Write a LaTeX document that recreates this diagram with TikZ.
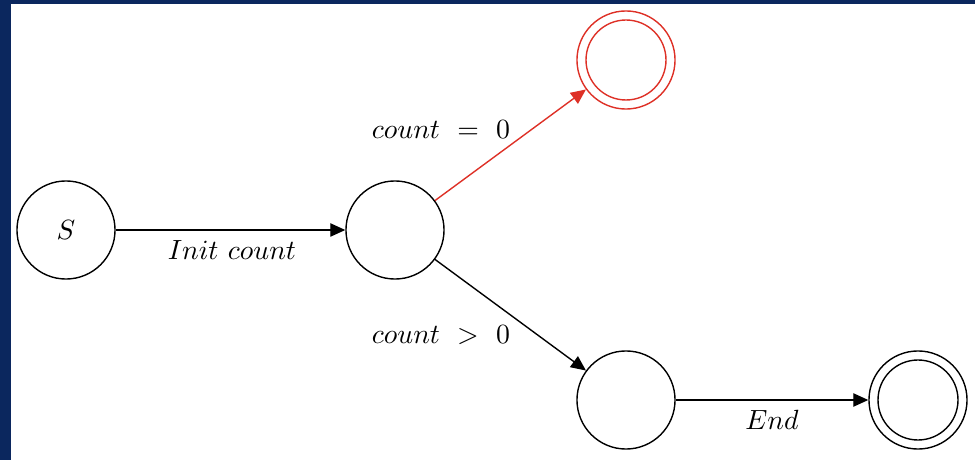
\documentclass[tikz,border=0pt]{standalone}
\usetikzlibrary{arrows.meta}
\definecolor{navy}{RGB}{11,39,94}
\definecolor{accred}{RGB}{222,48,38}
\begin{document}
\begin{tikzpicture}[x=0.36pt,y=-0.36pt,
  state/.style={circle,draw,line width=0.5pt,minimum size=35.3pt,inner sep=0pt,font=\fontsize{10.3}{12.5}\selectfont},
  conn/.style={line width=0.5pt,-{Triangle[length=5.4pt,width=4.8pt]}},
  lbl/.style={inner sep=0pt,font=\fontsize{10.3}{12.5}\selectfont}]
\useasboundingbox (0,0) rectangle (975,460);
\fill[navy] (0,0) rectangle (975,460);
\fill[white] (11,4) rectangle (975,460);
\node[state] (s) at (66,230) {$S$};
\node[state] (m) at (395,230) {};
\node[state,accred] (t) at (626,60) {};
\draw[accred,line width=0.5pt] (t.center) circle[radius=14.4pt];
\node[state] (b) at (626,400) {};
\node[state] (e) at (918,400) {};
\draw[line width=0.5pt] (e.center) circle[radius=14.4pt];
\draw[conn] (s) -- (m);
\draw[conn,accred] (m) -- (t);
\draw[conn] (m) -- (b);
\draw[conn] (b) -- (e);
\node[lbl] (l1) at (232,250) {$Init\ count$};
\node[lbl] (l2) at (441,130) {$count\ =\ 0$};
\node[lbl] (l3) at (441,335) {$count\ >\ 0$};
\node[lbl] (l4) at (772,420) {$End$};
\end{tikzpicture}
\end{document}
